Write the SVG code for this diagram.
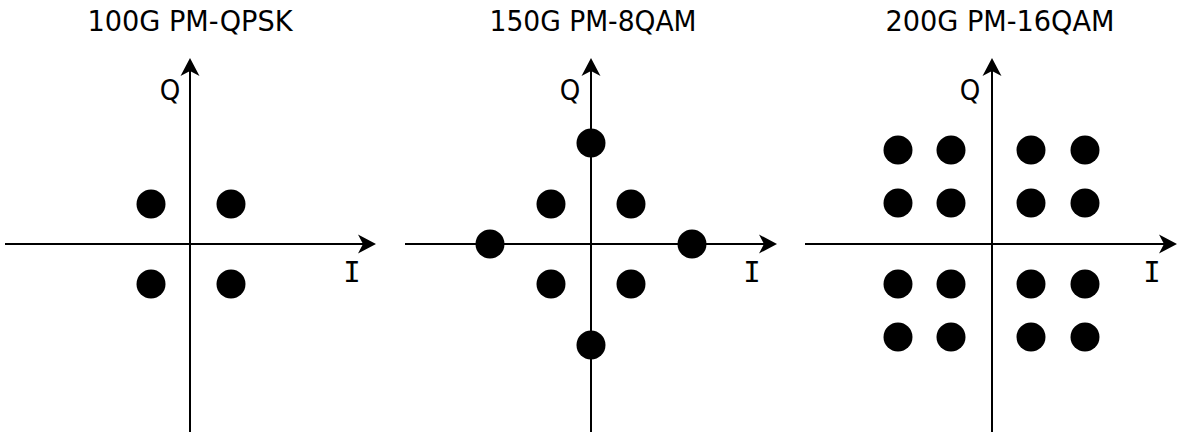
<svg xmlns="http://www.w3.org/2000/svg" width="1180" height="432" viewBox="0 0 1180 432">
<style>
  .ax { stroke: #000; stroke-width: 2; fill: none; }
  .dot { fill: #000; }
  .t { font-family: "DejaVu Sans Condensed", "DejaVu Sans", sans-serif; font-stretch: condensed; font-size: 29px; fill: #000; }
  .lbl { font-family: "DejaVu Sans Condensed", "DejaVu Sans", sans-serif; font-stretch: condensed; font-size: 29px; fill: #000; }
  .ilbl { font-family: "DejaVu Sans Mono", "Liberation Mono", monospace; font-size: 29px; fill: #000; }
</style>
<defs>
  <marker id="arr" markerUnits="userSpaceOnUse" markerWidth="20" markerHeight="20" viewBox="0 0 20 20" refX="7" refY="10" orient="auto">
    <path d="M2,0.5 L20,10 L2,19.5 L7,10 Z" fill="#000"/>
  </marker>
</defs>
<rect width="1180" height="432" fill="#fff"/>
<g id="connectors">
  <line class="ax" x1="5" y1="244" x2="363" y2="244" marker-end="url(#arr)"/>
  <line class="ax" x1="190" y1="432" x2="190" y2="71" marker-end="url(#arr)"/>
  <line class="ax" x1="405" y1="244" x2="764" y2="244" marker-end="url(#arr)"/>
  <line class="ax" x1="591" y1="432" x2="591" y2="71" marker-end="url(#arr)"/>
  <line class="ax" x1="805" y1="244" x2="1164" y2="244" marker-end="url(#arr)"/>
  <line class="ax" x1="992" y1="432" x2="992" y2="71" marker-end="url(#arr)"/>
</g>
<g id="qpsk">
  <text class="t" x="190" y="31" text-anchor="middle" textLength="205" lengthAdjust="spacingAndGlyphs">100G PM-QPSK</text>
  <text class="lbl" x="170" y="100" text-anchor="middle">Q</text>
  <text class="ilbl" x="352" y="282" text-anchor="middle">I</text>
  <circle class="dot" cx="151" cy="204" r="14.5"/>
  <circle class="dot" cx="231" cy="204" r="14.5"/>
  <circle class="dot" cx="151" cy="284" r="14.5"/>
  <circle class="dot" cx="231" cy="284" r="14.5"/>
</g>
<g id="8qam">
  <text class="t" x="593" y="31" text-anchor="middle" textLength="207" lengthAdjust="spacingAndGlyphs">150G PM-8QAM</text>
  <text class="lbl" x="570" y="100" text-anchor="middle">Q</text>
  <text class="ilbl" x="752" y="282" text-anchor="middle">I</text>
  <circle class="dot" cx="591" cy="143" r="14.5"/>
  <circle class="dot" cx="551" cy="204" r="14.5"/>
  <circle class="dot" cx="631" cy="204" r="14.5"/>
  <circle class="dot" cx="490" cy="244" r="14.5"/>
  <circle class="dot" cx="692" cy="244" r="14.5"/>
  <circle class="dot" cx="551" cy="284" r="14.5"/>
  <circle class="dot" cx="631" cy="284" r="14.5"/>
  <circle class="dot" cx="591" cy="345" r="14.5"/>
</g>
<g id="16qam">
  <text class="t" x="1000" y="31" text-anchor="middle" textLength="229" lengthAdjust="spacingAndGlyphs">200G PM-16QAM</text>
  <text class="lbl" x="970" y="100" text-anchor="middle">Q</text>
  <text class="ilbl" x="1152" y="282" text-anchor="middle">I</text>
  <circle class="dot" cx="898" cy="150" r="14.5"/>
  <circle class="dot" cx="951" cy="150" r="14.5"/>
  <circle class="dot" cx="1031" cy="150" r="14.5"/>
  <circle class="dot" cx="1085" cy="150" r="14.5"/>
  <circle class="dot" cx="898" cy="203" r="14.5"/>
  <circle class="dot" cx="951" cy="203" r="14.5"/>
  <circle class="dot" cx="1031" cy="203" r="14.5"/>
  <circle class="dot" cx="1085" cy="203" r="14.5"/>
  <circle class="dot" cx="898" cy="284" r="14.5"/>
  <circle class="dot" cx="951" cy="284" r="14.5"/>
  <circle class="dot" cx="1031" cy="284" r="14.5"/>
  <circle class="dot" cx="1085" cy="284" r="14.5"/>
  <circle class="dot" cx="898" cy="337" r="14.5"/>
  <circle class="dot" cx="951" cy="337" r="14.5"/>
  <circle class="dot" cx="1031" cy="337" r="14.5"/>
  <circle class="dot" cx="1085" cy="337" r="14.5"/>
</g>
</svg>
